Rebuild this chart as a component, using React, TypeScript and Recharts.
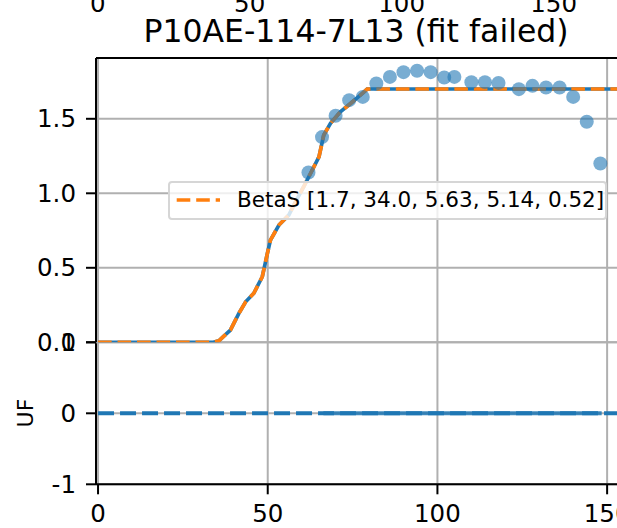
import React from 'react';
import { ComposedChart, Line, Scatter, XAxis, YAxis, CartesianGrid } from 'recharts';

// ---- data ----
const pointX = [62, 66, 70, 74, 78, 82, 86, 90, 94, 98, 102, 105, 110, 114, 118, 124, 128, 132, 136, 140, 144, 148];
const pointY = [1.14, 1.377, 1.52, 1.625, 1.647, 1.737, 1.781, 1.813, 1.822, 1.813, 1.777, 1.781, 1.746, 1.746, 1.741, 1.699, 1.721, 1.71, 1.71, 1.647, 1.48, 1.2];

const fitX = [0, 34, 35.6, 37, 39, 41.5, 43.5, 45.9, 48.4, 49.9, 50.8, 53.3, 56.2, 58.2, 60.6, 62.6, 65.1, 66.5, 68.5, 71.4, 74.4, 77.3, 79.3, 80.5, 153.5];
const fitY = [0, 0, 0.01, 0.04, 0.082, 0.194, 0.272, 0.329, 0.44, 0.597, 0.686, 0.787, 0.854, 0.943, 1.044, 1.133, 1.245, 1.39, 1.469, 1.547, 1.603, 1.659, 1.699, 1.7, 1.7];

const zeroLineX = [0, 153.5];
const zeroLineY = [0, 0];
const residualX = [66.4, 148.4];
const residualY = [0, 0];

const mainYTicks = [0, 0.5, 1.0, 1.5];
const residualYTicks = [-1, 0, 1];
const xTicks = [0, 50, 100, 150];
const topTicks = [0, 50, 100, 150];

const title = 'P10AE-114-7L13 (fit failed)';
const legendLabel = 'BetaS [1.7, 34.0, 5.63, 5.14, 0.52]';
const yLabel = 'UF';

// ---- tables built from the arrays ----
const points = pointX.map((x, i) => ({ x, y: pointY[i] }));
const fit = fitX.map((x, i) => ({ x, y: fitY[i] }));
const zeroLine = zeroLineX.map((x, i) => ({ x, y: zeroLineY[i] }));
const residual = residualX.map((x, i) => ({ x, y: residualY[i] }));

const FONT = '"DejaVu Sans", sans-serif';
const BLUE = '#1f77b4';
const ORANGE = '#ff7f0e';
const GRID = '#b0b0b0';
const tickStyle = { fill: '#000', fontSize: 24.5, fontFamily: FONT };
const spine = { stroke: '#000', strokeWidth: 2 };

const Dot = (props: any) => (
  <circle cx={props.cx} cy={props.cy} r={7} fill={BLUE} fillOpacity={0.6} />
);
const NoTick = () => <g />;

export default function App() {
  return (
    <div style={{ position: 'fixed', left: 0, top: 0, width: 617, height: 528, overflow: 'hidden', background: '#fff' }}>
      {/* residual panel (below) */}
      <div style={{ position: 'absolute', left: 0, top: 0 }}>
        <ComposedChart width={619} height={528} margin={{ top: 342.3, right: 0, bottom: 0, left: 0 }}>
          <CartesianGrid xAxisId="res" yAxisId="res" stroke={GRID} strokeWidth={2} />
          <XAxis
            xAxisId="res"
            type="number"
            dataKey="x"
            domain={[-0.6, 153.5]}
            ticks={xTicks}
            interval={0}
            allowDataOverflow
            height={43.7}
            tickSize={10}
            tickMargin={10.5}
            axisLine={spine}
            tickLine={spine}
            tick={tickStyle}
          />
          <YAxis
            yAxisId="res"
            type="number"
            domain={[-1, 1]}
            ticks={residualYTicks}
            interval={0}
            allowDataOverflow
            width={96}
            tickSize={10}
            tickMargin={10}
            axisLine={spine}
            tickLine={spine}
            tick={tickStyle}
          />
          <Line xAxisId="res" yAxisId="res" data={zeroLine} dataKey="y" type="linear" stroke={BLUE} strokeWidth={4} strokeDasharray="16 6" dot={false} isAnimationActive={false} />
          <Line xAxisId="res" yAxisId="res" data={residual} dataKey="y" type="linear" stroke={BLUE} strokeOpacity={0.85} strokeWidth={4} dot={false} isAnimationActive={false} />
        </ComposedChart>
      </div>

      {/* main panel (above) */}
      <div style={{ position: 'absolute', left: 0, top: 0 }}>
        <ComposedChart width={619} height={528} margin={{ top: 12, right: 0, bottom: 185.7, left: 0 }}>
          <CartesianGrid xAxisId="main" yAxisId="main" stroke={GRID} strokeWidth={2} />
          <XAxis
            xAxisId="top"
            orientation="top"
            type="number"
            dataKey="x"
            domain={[-0.56, 171.5]}
            ticks={topTicks}
            interval={0}
            allowDataOverflow
            height={46}
            tickSize={0}
            tickMargin={46.3}
            axisLine={spine}
            tickLine={false}
            tick={tickStyle}
          />
          <XAxis
            xAxisId="main"
            orientation="bottom"
            type="number"
            dataKey="x"
            domain={[-0.6, 153.5]}
            ticks={xTicks}
            interval={0}
            allowDataOverflow
            height={0}
            tick={NoTick}
            tickLine={false}
            axisLine={spine}
          />
          <YAxis
            yAxisId="main"
            type="number"
            domain={[0, 1.908]}
            ticks={mainYTicks}
            interval={0}
            allowDataOverflow
            width={96}
            tickSize={10}
            tickMargin={10}
            tickFormatter={(v: number) => v.toFixed(1)}
            axisLine={spine}
            tickLine={spine}
            tick={tickStyle}
          />
          {/* invisible series that binds the upper (other subplot) tick axis */}
          <Line xAxisId="top" yAxisId="main" data={fit} dataKey="y" stroke="none" dot={false} activeDot={false} legendType="none" isAnimationActive={false} />
          <Scatter xAxisId="main" yAxisId="main" data={points} dataKey="y" shape={Dot} isAnimationActive={false} />
          <Line xAxisId="main" yAxisId="main" data={fit} dataKey="y" type="linear" stroke={BLUE} strokeWidth={3.7} dot={false} isAnimationActive={false} />
          <Line xAxisId="main" yAxisId="main" data={fit} dataKey="y" type="linear" stroke={ORANGE} strokeWidth={3.7} strokeDasharray="13.6 5.9" dot={false} isAnimationActive={false} />
        </ComposedChart>
      </div>

      {/* title and y label */}
      <svg width={617} height={528} style={{ position: 'absolute', left: 0, top: 0, pointerEvents: 'none' }}>
        <text x={356} y={41.7} textAnchor="middle" fontSize={31.5} fontFamily={FONT} fill="#000">{title}</text>
        <text x={25} y={413} transform="rotate(-90, 25, 413)" textAnchor="middle" dominantBaseline="central" fontSize={22} fontFamily={FONT} fill="#000">{yLabel}</text>
      </svg>

      {/* legend */}
      <div
        style={{
          position: 'absolute',
          left: 168,
          top: 181,
          width: 439,
          height: 39,
          boxSizing: 'border-box',
          border: '2px solid #d6d6d6',
          borderRadius: 4,
          background: 'rgba(255,255,255,0.8)',
        }}
      >
        <svg width={439} height={39} style={{ position: 'absolute', left: -2, top: -2 }}>
          <line x1={8.7} y1={19} x2={52} y2={19} stroke={ORANGE} strokeWidth={3.7} strokeDasharray="13.6 5.9" />
          <text x={69} y={25.5} fontSize={21.5} fontFamily={FONT} fill="#000">{legendLabel}</text>
        </svg>
      </div>
    </div>
  );
}
